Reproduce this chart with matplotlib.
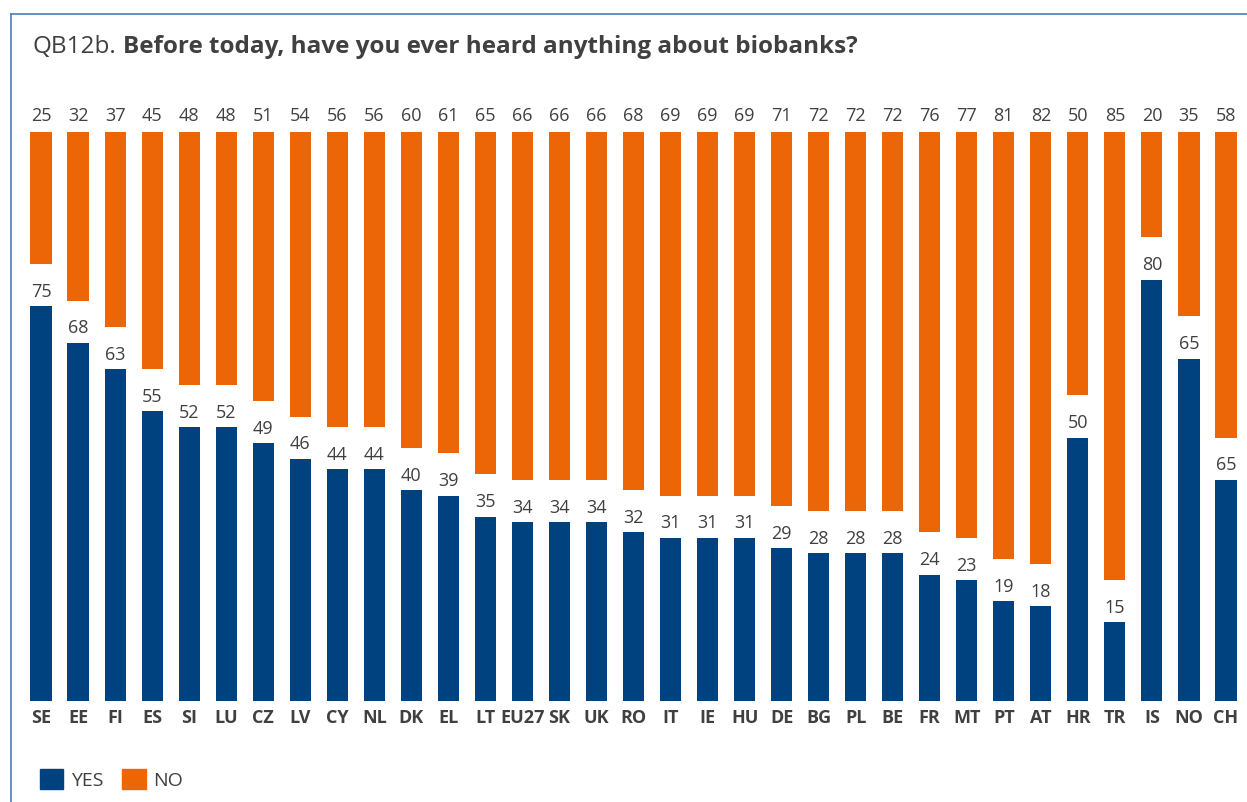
import matplotlib
matplotlib.use("Agg")
import matplotlib.pyplot as plt
from matplotlib.lines import Line2D
from matplotlib.patches import Patch

plt.rcParams['font.family'] = ['Open Sans', 'DejaVu Sans']

countries = ['SE', 'EE', 'FI', 'ES', 'SI', 'LU', 'CZ', 'LV', 'CY', 'NL', 'DK', 'EL', 'LT', 'EU27',
             'SK', 'UK', 'RO', 'IT', 'IE', 'HU', 'DE', 'BG', 'PL', 'BE', 'FR', 'MT', 'PT', 'AT',
             'HR', 'TR', 'IS', 'NO', 'CH']
yes = [75, 68, 63, 55, 52, 52, 49, 46, 44, 44, 40, 39, 35, 34, 34, 34, 32, 31, 31, 31, 29, 28, 28, 28,
       24, 23, 19, 18, 50, 15, 80, 65, 42]
# printed labels (CH bar in the source is drawn shorter than its label)
yes_labels = [75, 68, 63, 55, 52, 52, 49, 46, 44, 44, 40, 39, 35, 34, 34, 34, 32, 31, 31, 31, 29, 28, 28, 28,
              24, 23, 19, 18, 50, 15, 80, 65, 65]
no = [25, 32, 37, 45, 48, 48, 51, 54, 56, 56, 60, 61, 65, 66, 66, 66, 68, 69, 69, 69, 71, 72, 72, 72,
      76, 77, 81, 82, 50, 85, 20, 35, 58]

BLUE = '#00427F'
ORANGE = '#EC6608'
GREY = '#404040'
TOP = 108

W, H = 1247, 803
fig = plt.figure(figsize=(W / 100, H / 100), dpi=100)
ax = fig.add_axes([22.5 / W, (H - 702) / H, 1222 / W, 569 / H])

x = range(len(countries))
ax.bar(x, yes, width=0.57, color=BLUE)
ax.bar(x, no, bottom=[TOP - n for n in no], width=0.57, color=ORANGE)

for i in x:
    ax.text(i, yes[i] + 1.2, str(yes_labels[i]), ha='center', va='bottom', fontsize=13, color=GREY)
    ax.text(i, TOP + 1.5, str(no[i]), ha='center', va='bottom', fontsize=13, color=GREY)

ax.set_xlim(-0.5, len(countries) - 0.5)
ax.set_ylim(0, TOP)
ax.set_xticks(list(x))
ax.set_xticklabels(countries, fontsize=13, fontweight='bold', color=GREY)
ax.tick_params(axis='x', length=0, pad=5)
ax.set_yticks([])
for s in ax.spines.values():
    s.set_visible(False)

# frame
fig.add_artist(Line2D([11 / W, 1], [1 - 15 / H, 1 - 15 / H], color='#4A7DB5', lw=1.2))
fig.add_artist(Line2D([11 / W, 11 / W], [0, 1 - 15 / H], color='#4A7DB5', lw=1.2))

t1 = fig.text(33 / W, 1 - 47 / H, 'QB12b.', fontsize=17.5, color=GREY, va='center')
fig.canvas.draw()
bb = t1.get_window_extent()
fig.text((bb.x1 + 6) / W, 1 - 47 / H, 'Before today, have you ever heard anything about biobanks?',
         fontsize=17.5, fontweight='bold', color=GREY, va='center')

handles = [Patch(color=BLUE, label='YES'), Patch(color=ORANGE, label='NO')]
fig.legend(handles=handles, loc='center left', bbox_to_anchor=(22 / W, 1 - 780 / H), ncol=2,
           frameon=False, fontsize=14, handlelength=1.2, handleheight=1.2, handletextpad=0.4,
           columnspacing=1.0, labelcolor=GREY)

fig.savefig('out.png', dpi=100)
